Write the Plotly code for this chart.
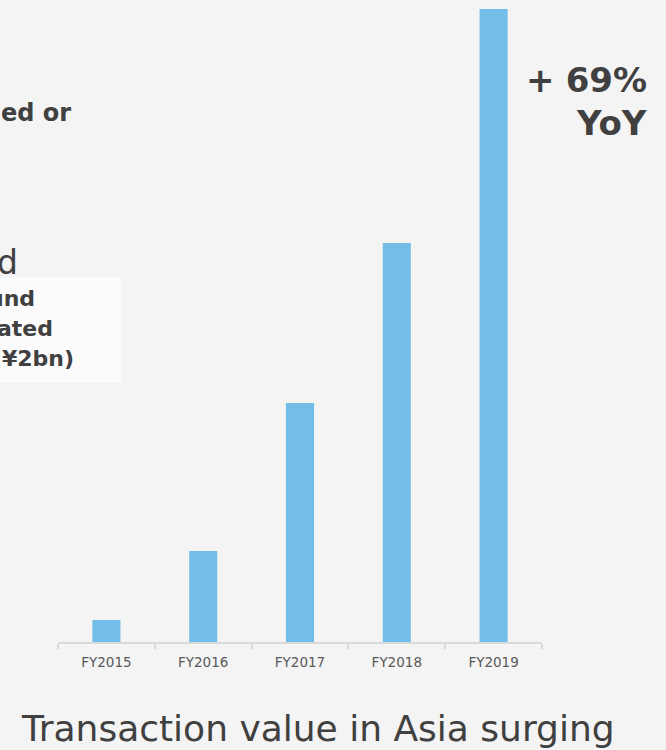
import plotly.graph_objects as go

categories = ["FY2015", "FY2016", "FY2017", "FY2018", "FY2019"]
values = [2.2, 9.1, 23.9, 39.9, 63.3]

BG = "#f3f4f3"
TXT = "#404040"
FONT = "DejaVu Sans"

fig = go.Figure()
fig.add_trace(go.Bar(x=categories, y=values, marker=dict(color="#73bde9", line=dict(width=0)),
                     width=0.29, hoverinfo="skip"))

fig.update_layout(
    width=666, height=750,
    margin=dict(l=58, r=124, t=9, b=108),
    paper_bgcolor=BG, plot_bgcolor=BG,
    showlegend=False,
    font=dict(family=FONT, color=TXT),
    xaxis=dict(showline=True, linecolor="#d9d9d9", linewidth=1.5, ticks="outside",
               tickson="boundaries", ticklen=5, tickcolor="#d9d9d9", tickwidth=1.5,
               ticklabelstandoff=7,
               tickfont=dict(size=13.5, color="#595959", family=FONT), showgrid=False,
               fixedrange=True),
    yaxis=dict(visible=False, range=[0, 63.3], showgrid=False, zeroline=False, fixedrange=True),
)

fig.add_shape(type="rect", xref="paper", yref="paper", x0=-58/484, x1=(121-58)/484,
              y0=(642-383)/633, y1=(642-277)/633, fillcolor="#fbfbfb", line=dict(width=0), layer="below")

def ann(text, x, y, size, bold=False, xanchor="left"):
    fig.add_annotation(text=f"<b>{text}</b>" if bold else text, xref="paper", yref="paper",
                       x=(x-58)/484, y=(642-y)/633, xanchor=xanchor, yanchor="middle",
                       showarrow=False, font=dict(size=size, color=TXT, family=FONT))

ann("ed or", 73, 113, 24, bold=True, xanchor="right")
ann("d", 20, 262, 33, xanchor="right")
ann("und", 37, 298, 22, bold=True, xanchor="right")
ann("ated", 55, 328, 22, bold=True, xanchor="right")
ann("¥2bn)", 76, 358, 22, bold=True, xanchor="right")
ann("+\u200469%", 649, 80, 34, bold=True, xanchor="right")
ann("YoY", 649, 123, 34, bold=True, xanchor="right")
ann("Transaction value in Asia surging", 19, 728, 36, xanchor="left")

fig.write_html("out.html", config={"displayModeBar": False})
